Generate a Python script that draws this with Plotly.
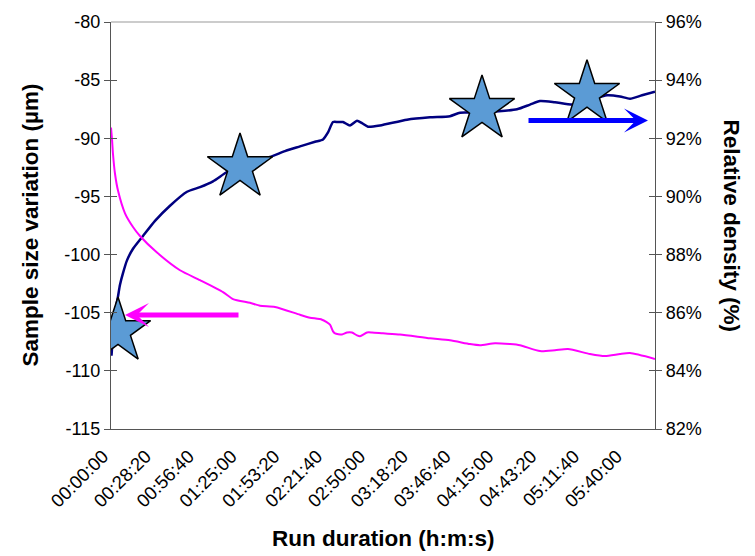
import plotly.graph_objects as go

# ---- data ----
tick_seconds = [0, 1700, 3400, 5100, 6800, 8500, 10200, 11900, 13600, 15300, 17000, 18700, 20400]
tick_labels = ["00:00:00", "00:28:20", "00:56:40", "01:25:00", "01:53:20", "02:21:40", "02:50:00",
               "03:18:20", "03:46:40", "04:15:00", "04:43:20", "05:11:40", "05:40:00"]
left_ticks = [-115, -110, -105, -100, -95, -90, -85, -80]
left_labels = ["-115", "-110", "-105", "-100", "-95", "-90", "-85", "-80"]
right_ticks = [82, 84, 86, 88, 90, 92, 94, 96]
right_labels = ["82%", "84%", "86%", "88%", "90%", "92%", "94%", "96%"]

size_t = [20, 119, 199, 278, 357, 476, 635, 874, 1271, 1747, 2343, 3018, 3534, 4050, 4606, 5122,
          5718, 6313, 6909, 7504, 8100, 8418, 8616, 8815, 9013, 9212, 9490, 9768, 9966, 10204,
          10681, 11753, 12666, 13460, 13857, 14652, 16121, 16637, 17034, 17629, 18344, 19019,
          19694, 20210, 20607, 21083, 21600]
size_um = [-108.7, -105.8, -104.5, -103.6, -102.6, -101.6, -100.5, -99.5, -98.4, -97.1, -95.8,
           -94.6, -94.2, -93.7, -92.9, -92.4, -91.9, -91.6, -91.1, -90.7, -90.3, -90.1, -89.5,
           -88.6, -88.6, -88.6, -88.9, -88.5, -88.7, -89.0, -88.9, -88.4, -88.2, -88.1, -87.8,
           -87.8, -87.5, -87.1, -86.8, -86.9, -87.1, -86.7, -86.3, -86.4, -86.6, -86.3, -86.0]

dens_t = [0, 40, 79, 159, 278, 556, 874, 1151, 1826, 2740, 3534, 4447, 4844, 5519, 5916, 6512,
          7504, 7901, 8378, 8695, 8815, 8894, 9172, 9371, 9569, 9768, 9887, 10165, 10363, 10800,
          11475, 12666, 13460, 14254, 14652, 15247, 15843, 16240, 17034, 17629, 18145, 19019,
          19614, 20210, 20607, 21600]
dens_pct = [92.37, 91.97, 91.46, 90.78, 90.20, 89.42, 88.95, 88.64, 88.07, 87.46, 87.12, 86.71,
            86.47, 86.34, 86.24, 86.20, 85.93, 85.83, 85.76, 85.59, 85.36, 85.29, 85.25, 85.32,
            85.32, 85.22, 85.19, 85.32, 85.32, 85.29, 85.25, 85.12, 85.05, 84.92, 84.88, 84.95,
            84.92, 84.88, 84.68, 84.71, 84.75, 84.58, 84.51, 84.58, 84.61, 84.41]

star_t = [278, 5122, 14731, 18900]
star_um = [-106.6, -92.5, -87.5, -86.2]

# arrows: (tail_t, tail_um) -> (tip_t, tip_um)
arrow_left = dict(tail=(5122, -105.2), tip=(556, -105.2), color="#FF00FF")
arrow_right = dict(tail=(16518, -88.47), tip=(21322, -88.47), color="#0000FF")

FONT = "Liberation Sans, Arial, sans-serif"
AXC = "#555555"

fig = go.Figure()
fig.add_trace(go.Scatter(x=size_t, y=size_um, mode="lines",
                         line=dict(color="#000080", width=2.5, shape="spline", smoothing=0.6),
                         yaxis="y", showlegend=False, hoverinfo="skip"))
fig.add_trace(go.Scatter(x=dens_t, y=dens_pct, mode="lines",
                         line=dict(color="#FF00FF", width=2, shape="spline", smoothing=0.6),
                         yaxis="y2", showlegend=False, hoverinfo="skip"))
fig.add_trace(go.Scatter(x=star_t, y=star_um, mode="markers",
                         marker=dict(symbol="star", size=49, color="#5B9BD5",
                                     line=dict(color="black", width=1.5)),
                         yaxis="y", showlegend=False, hoverinfo="skip"))
# invisible traces to activate the tick-only axes
fig.add_trace(go.Scatter(x=[None], y=[None], yaxis="y3", showlegend=False, hoverinfo="skip"))
fig.add_trace(go.Scatter(x=[None], y=[None], yaxis="y4", showlegend=False, hoverinfo="skip"))

annotations = []
for a in (arrow_left, arrow_right):
    annotations.append(dict(x=a["tip"][0], y=a["tip"][1], ax=a["tail"][0], ay=a["tail"][1],
                            xref="x", yref="y", axref="x", ayref="y", text="",
                            showarrow=True, arrowhead=3, arrowsize=0.8, arrowwidth=5,
                            arrowcolor=a["color"]))
annotations.append(dict(text="<b>Sample size variation (µm)</b>", xref="paper", yref="paper",
                        x=(30 - 111) / 544, y=0.5, textangle=-90, showarrow=False,
                        xanchor="center", yanchor="middle", font=dict(size=22.5, family=FONT, color="black")))
annotations.append(dict(text="<b>Relative density (%)</b>", xref="paper", yref="paper",
                        x=(731 - 111) / 544, y=0.5, textangle=90, showarrow=False,
                        xanchor="center", yanchor="middle", font=dict(size=22.5, family=FONT, color="black")))
annotations.append(dict(text="<b>Run duration (h:m:s)</b>", xref="paper", yref="paper",
                        x=0.5, y=(429 - 540) / 413, showarrow=False,
                        xanchor="center", yanchor="middle", font=dict(size=22.5, family=FONT, color="black")))

fig.update_layout(
    width=755, height=556,
    margin=dict(l=111, r=100, t=16, b=127),
    paper_bgcolor="white", plot_bgcolor="white",
    font=dict(family=FONT, size=18, color="black"),
    xaxis=dict(range=[0, 21600], tickvals=tick_seconds, ticktext=tick_labels, tickangle=-45,
               showline=True, linecolor=AXC, linewidth=1.3, ticks="", showgrid=False,
               zeroline=False, tickfont=dict(size=18.5), ticklabelstandoff=8, ticklabelshift=-8),
    yaxis=dict(range=[-115, -80], tickvals=left_ticks, ticktext=left_labels, ticks="outside",
               ticklen=6, tickcolor=AXC, showline=True, linecolor=AXC, linewidth=1.3,
               showgrid=False, zeroline=False, tickfont=dict(size=18)),
    yaxis2=dict(range=[82, 96], tickvals=right_ticks, ticktext=right_labels, overlaying="y",
                side="right", ticks="outside", ticklen=6, tickcolor=AXC, showline=True,
                linecolor=AXC, linewidth=1.3, showgrid=False, zeroline=False,
                tickfont=dict(size=18)),
    yaxis3=dict(range=[-115, -80], tickvals=left_ticks, overlaying="y", side="left",
                ticks="inside", ticklen=6, tickcolor=AXC, showticklabels=False,
                showline=False, showgrid=False, zeroline=False),
    yaxis4=dict(range=[82, 96], tickvals=right_ticks, overlaying="y", side="right",
                ticks="inside", ticklen=6, tickcolor=AXC, showticklabels=False,
                showline=False, showgrid=False, zeroline=False),
    shapes=[dict(type="line", xref="paper", yref="paper", x0=0, x1=1, y0=1, y1=1,
                 line=dict(color="#BBBBBB", width=1.3))],
    annotations=annotations,
)

fig.write_html("out.html", config={"displayModeBar": False},
               post_script="document.body.style.margin='0';document.body.style.overflow='hidden';")
